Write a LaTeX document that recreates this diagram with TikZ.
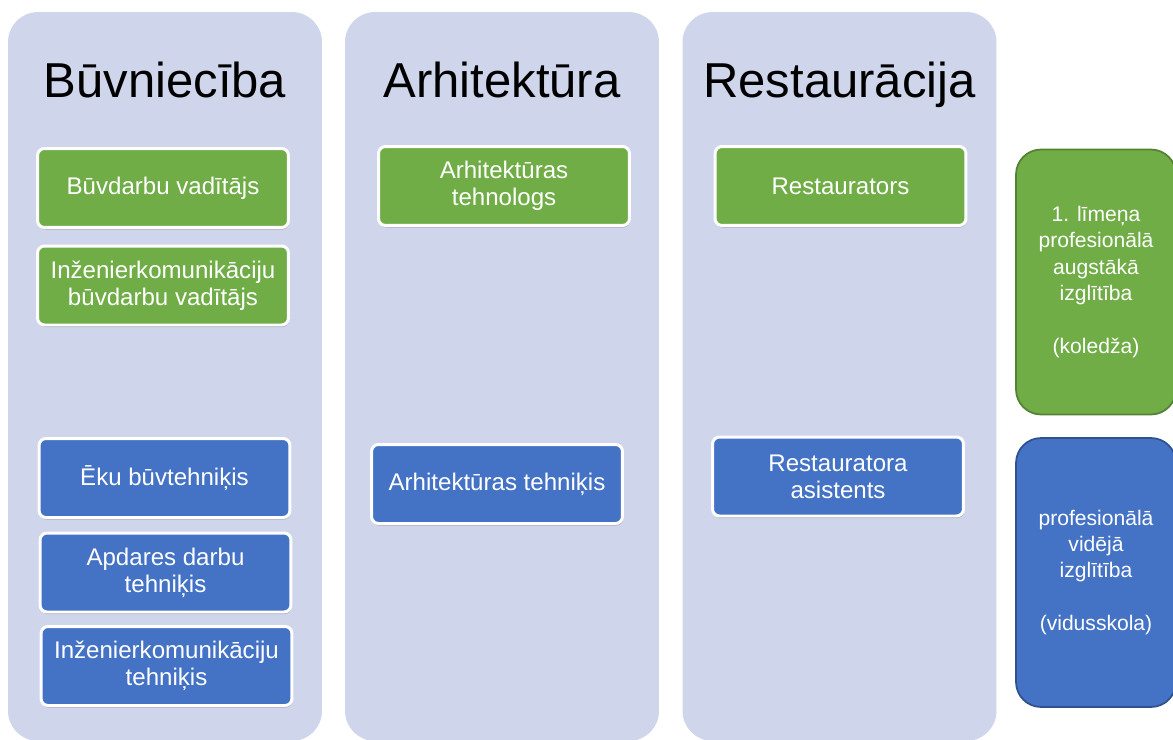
\documentclass[tikz,border=0pt]{standalone}
\usepackage{fontspec}
\setmainfont{Liberation Sans}
\usetikzlibrary{shadows}
\definecolor{lav1}{RGB}{207, 213, 234}
\definecolor{green1}{RGB}{112, 173, 71}
\definecolor{green2}{RGB}{84, 130, 53}
\definecolor{blue1}{RGB}{68, 114, 196}
\definecolor{blue2}{RGB}{47, 82, 143}

\begin{document}
\begin{tikzpicture}[x=0.02cm, y=-0.02cm,
  column/.style={rectangle, rounded corners=0.6cm, fill=lav1, minimum width=6.28cm, minimum height=14.58cm, inner sep=0pt},
  heading/.style={anchor=base, font=\fontsize{27.9}{32}\selectfont},
  job/.style={rectangle, rounded corners=4pt, draw=white, line width=1.7pt, minimum width=5.02cm, minimum height=1.58cm, inner sep=2pt,
    text=white, align=center, font=\fontsize{13.7}{15.4}\selectfont,
    drop shadow={shadow xshift=0.4pt, shadow yshift=-1.2pt, opacity=0.35, fill=black!60}},
  greenjob/.style={job, fill=green1},
  bluejob/.style={job, fill=blue1},
  level/.style={rectangle, rounded corners=0.5cm, line width=1pt, minimum width=3.2cm, inner sep=2pt,
    text=white, align=center, font=\fontsize{12}{15}\selectfont},
]
  \useasboundingbox[fill=white] (0,0) rectangle (1173,740);
  % columns
  \node[column] (c1) at (165,376.5) {};
  \node[column] (c2) at (502,376.5) {};
  \node[column] (c3) at (839.5,376.5) {};
  \node[heading] (h1) at (165,98) {Būvniecība};
  \node[heading] (h2) at (502,98) {Arhitektūra};
  \node[heading] (h3) at (839.5,98) {Restaurācija};
  % jobs
  \node[greenjob] (g1) at (163,188) {Būvdarbu vadītājs};
  \node[greenjob] (g2) at (163,285.5) {Inženierkomunikāciju\\būvdarbu vadītājs};
  \node[greenjob] (g3) at (504,186) {Arhitektūras\\tehnologs};
  \node[greenjob] (g4) at (840.5,186) {Restaurators};
  \node[bluejob] (b1) at (164.5,478) {Ēku būvtehniķis};
  \node[bluejob] (b2) at (165.5,572.5) {Apdares darbu\\tehniķis};
  \node[bluejob] (b3) at (166.5,666) {Inženierkomunikāciju\\tehniķis};
  \node[bluejob] (b4) at (497,484) {Arhitektūras tehniķis};
  \node[bluejob] (b5) at (838,476.5) {Restauratora\\asistents};
  % levels
  \node[level, fill=green1, draw=green2, minimum height=5.3cm] (l1) at (1096,282)
    {1. līmeņa\\profesionālā\\augstākā\\izglītība\\[15pt](koledža)};
  \node[level, fill=blue1, draw=blue2, minimum height=5.38cm] (l2) at (1096,572.5)
    {profesionālā\\vidējā\\izglītība\\[15pt](vidusskola)};
\end{tikzpicture}
\end{document}
